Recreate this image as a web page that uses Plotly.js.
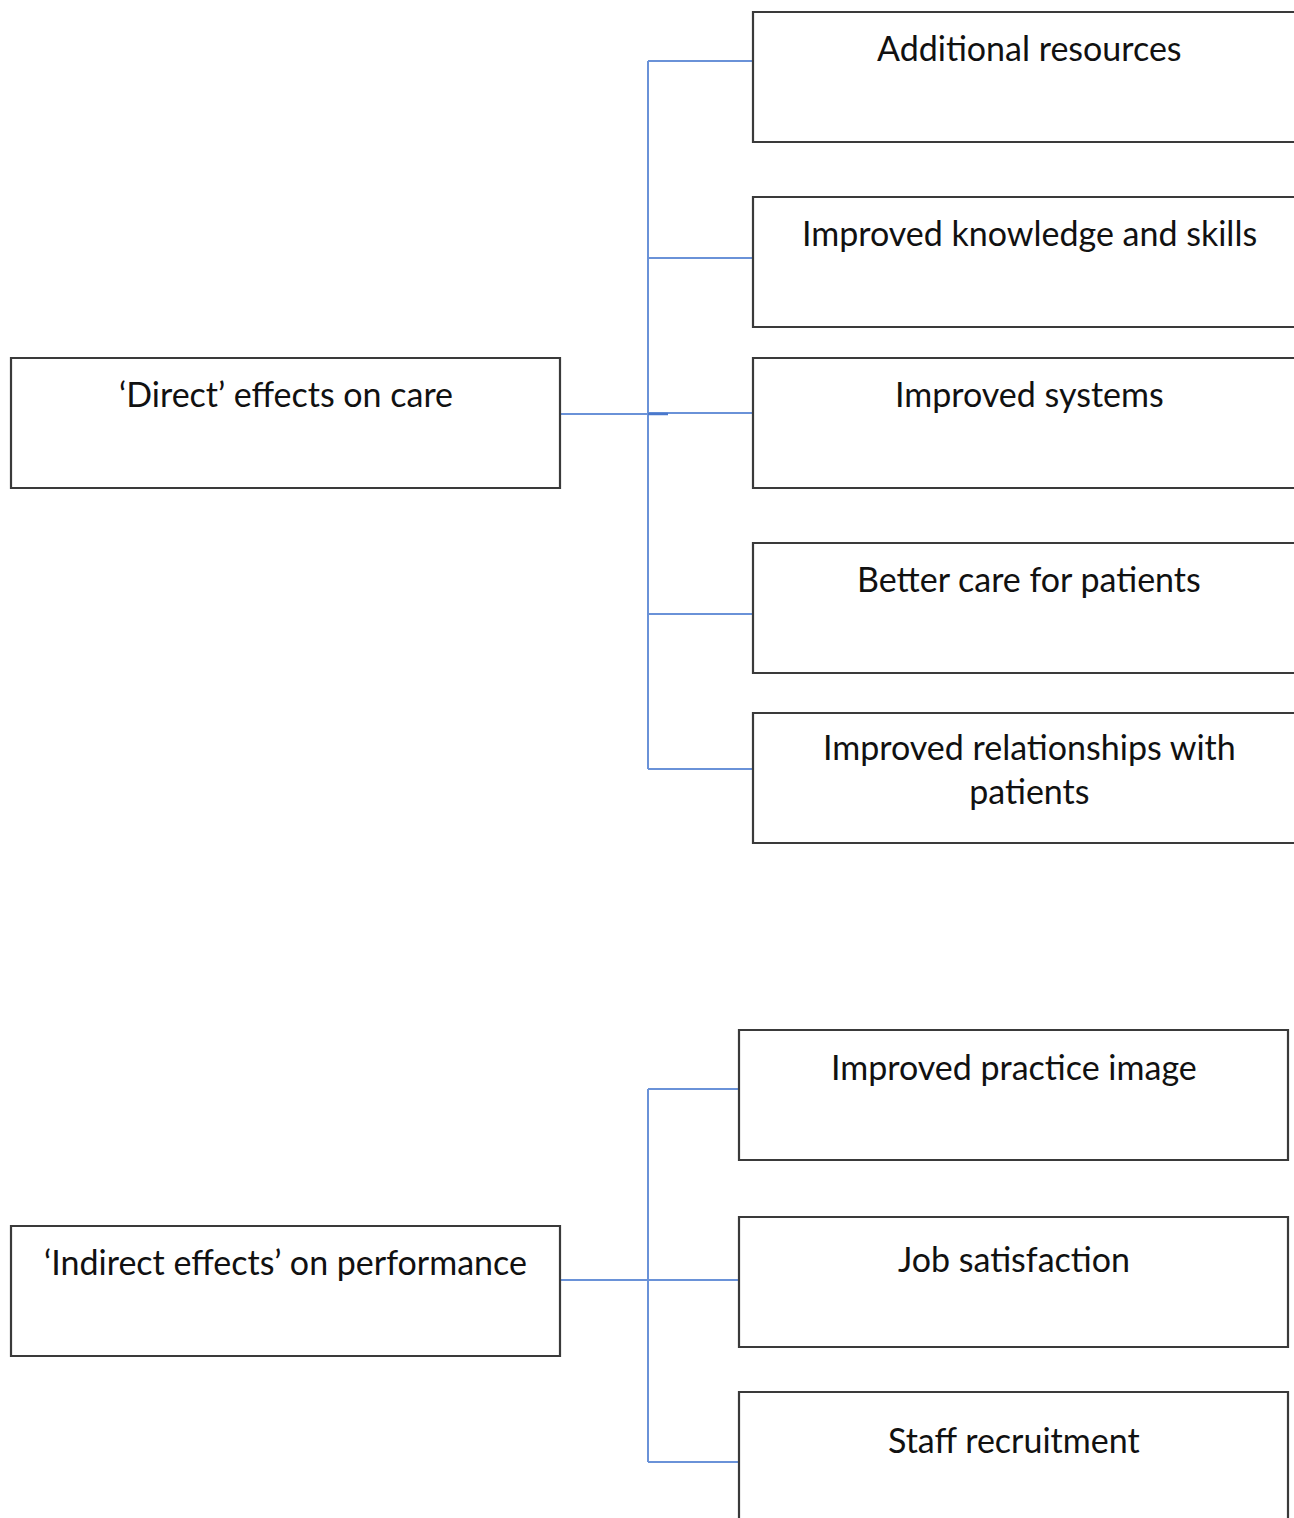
<!DOCTYPE html>
<html>
<head>
<meta charset="utf-8">
<script src="https://cdn.plot.ly/plotly-3.0.1.min.js"></script>
<style>html,body{margin:0;padding:0;background:#fff;}#chart{width:1294px;height:1518px;}</style>
</head>
<body>
<div id="chart"></div>
<script>
// Content
const groupLabels = ["\u2018Direct\u2019 effects on care", "\u2018Indirect effects\u2019 on performance"];
const directEffects = ["Additional resources", "Improved knowledge and skills", "Improved systems", "Better care for patients", "Improved relationships with<br>patients"];
const indirectEffects = ["Improved practice image", "Job satisfaction", "Staff recruitment"];

// Geometry (layout only, pixel-space axes)
const groupBoxes = [
  {x0: 11, x1: 560, y0: 358, y1: 488, link: 414, trunk: 648, tTop: 61, tBot: 769, t: 35},
  {x0: 11, x1: 560, y0: 1226, y1: 1356, link: 1280, trunk: 648, tTop: 1089, tBot: 1462, t: 35}
];
const directBoxes = [
  {x0: 753, x1: 1305, y0: 12, y1: 142, link: 61, t: 35},
  {x0: 753, x1: 1305, y0: 197, y1: 327, link: 258, t: 35},
  {x0: 753, x1: 1305, y0: 358, y1: 488, link: 413, t: 35},
  {x0: 753, x1: 1305, y0: 543, y1: 673, link: 614, t: 35},
  {x0: 753, x1: 1305, y0: 713, y1: 843, link: 769, t: 55}
];
const indirectBoxes = [
  {x0: 739, x1: 1288, y0: 1030, y1: 1160, link: 1089, t: 36},
  {x0: 739, x1: 1288, y0: 1217, y1: 1347, link: 1280, t: 41},
  {x0: 739, x1: 1288, y0: 1392, y1: 1540, link: 1462, t: 47}
];

const BLUE = "#6a92d8";
const BOX = "#3a3a3a";
const FONT = {family: "Lato, 'Open Sans', sans-serif", size: 34, color: "#111"};

const shapes = [];
const annotations = [];

function addBox(b, label) {
  shapes.push({type: "rect", xref: "x", yref: "y", x0: b.x0, x1: b.x1, y0: b.y0, y1: b.y1,
    line: {color: BOX, width: 2.2}, fillcolor: "rgba(0,0,0,0)", layer: "above"});
  annotations.push({xref: "x", yref: "y", x: (b.x0 + b.x1) / 2, y: b.y0 + b.t,
    text: label, showarrow: false, xanchor: "center", yanchor: "middle", font: FONT, align: "center"});
}
function addLine(x0, y0, x1, y1, w) {
  shapes.push({type: "line", xref: "x", yref: "y", x0: x0, y0: y0, x1: x1, y1: y1,
    line: {color: BLUE, width: w || 2}, layer: "below"});
}

const children = [directBoxes, indirectBoxes];
const childLabels = [directEffects, indirectEffects];
groupBoxes.forEach((g, gi) => {
  addBox(g, groupLabels[gi]);
  addLine(g.x1, g.link, g.trunk, g.link);
  addLine(g.trunk, g.tTop, g.trunk, g.tBot);
  children[gi].forEach((c, ci) => {
    addBox(c, childLabels[gi][ci]);
    addLine(g.trunk, c.link, c.x0, c.link);
  });
});
// small darker joint mark on the first connector
shapes.push({type: "line", xref: "x", yref: "y", x0: 648, y0: 414, x1: 668, y1: 414,
  line: {color: "#4a78cc", width: 2.5}, layer: "below"});

const layout = {
  width: 1294, height: 1518,
  margin: {l: 0, r: 0, t: 0, b: 0},
  paper_bgcolor: "#fff", plot_bgcolor: "#fff",
  xaxis: {range: [0, 1294], visible: false, fixedrange: true},
  yaxis: {range: [1518, 0], visible: false, fixedrange: true},
  showlegend: false,
  shapes: shapes,
  annotations: annotations
};

Plotly.newPlot("chart", [{x: [], y: [], type: "scatter", mode: "markers", hoverinfo: "skip"}], layout, {staticPlot: true});
</script>
</body>
</html>
